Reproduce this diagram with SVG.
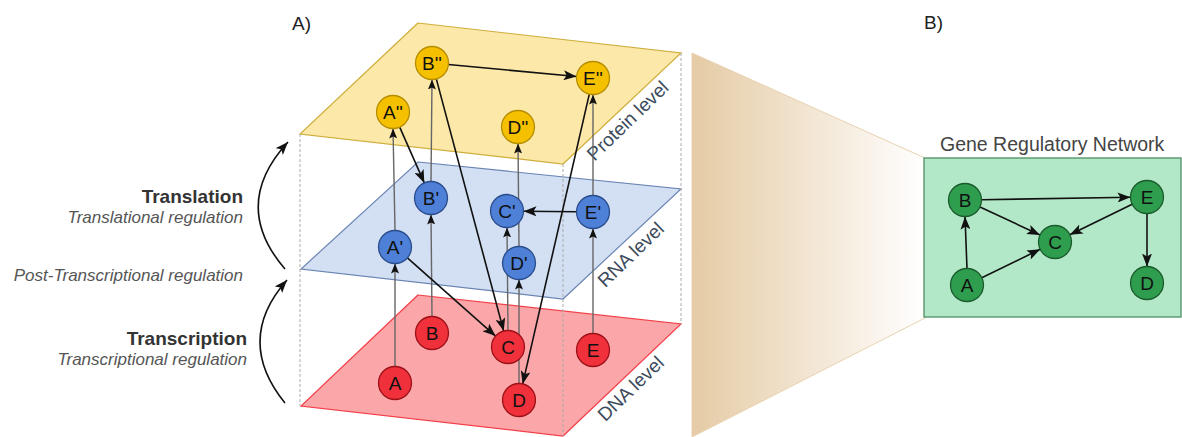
<svg xmlns="http://www.w3.org/2000/svg" width="1182" height="437" viewBox="0 0 1182 437">
<defs>
<style>
text{font-family:"Liberation Sans",Arial,sans-serif}
.nl{font-size:19px;fill:#111;text-anchor:middle}
.ny{fill:#f5c000;stroke:#b58d00;stroke-width:1.3}
.nb{fill:#4d80d6;stroke:#2a4c8c;stroke-width:1.3}
.nr{fill:#f0303a;stroke:#9c1018;stroke-width:1.3}
.ng{fill:#2e9e4e;stroke:#1b5a2c;stroke-width:1.3}
.v{stroke:#666;stroke-width:1.4;fill:none;marker-end:url(#ah)}
.d{stroke:#111;stroke-width:1.6;fill:none;marker-end:url(#ab)}
.box{stroke:#aaa;stroke-width:1;stroke-dasharray:3 2;fill:none}
.pl{font-size:19px;fill:#3d4b5c;text-anchor:middle}
.bold{font-size:19px;font-weight:bold;fill:#333;text-anchor:end}
.it{font-size:17px;font-style:italic;fill:#555;text-anchor:end}
</style>
<marker id="ab" markerWidth="14" markerHeight="10" refX="13" refY="5" orient="auto" markerUnits="userSpaceOnUse">
<path d="M0,0 L13,5 L0,10 L3,5 Z" fill="#111"/>
</marker>
<marker id="ah" markerWidth="11" markerHeight="8" refX="10" refY="4" orient="auto" markerUnits="userSpaceOnUse">
<path d="M0,0 L10,4 L0,8 L2,4 Z" fill="#111"/>
</marker>
<linearGradient id="tan" x1="0" y1="0" x2="1" y2="0">
<stop offset="0" stop-color="#e5cba5"/>
<stop offset="1" stop-color="#ffffff"/>
</linearGradient>
</defs>
<rect width="1182" height="437" fill="#ffffff"/>

<g id="planes">
<polygon points="418,295 681,324 563,436 301,406" fill="#fba6a8" stroke="#f2404a" stroke-width="1.2"/>
<polygon points="418,162 681,189 563,299 301,269" fill="#d3dff2" stroke="#6a84b4" stroke-width="1.2"/>
<polygon points="418,23 681,53 563,164 300,134" fill="#fce8a8" stroke="#cfae3c" stroke-width="1.2"/>
</g>
<g id="box-edges">
<line class="box" x1="300" y1="134" x2="300" y2="406"/>
<line class="box" x1="563" y1="164" x2="563" y2="436"/>
<line class="box" x1="681" y1="53" x2="681" y2="324"/>
</g>
<g id="plane-labels">
<text class="pl" transform="translate(628,121) rotate(-44)" x="0" y="6">Protein level</text>
<text class="pl" transform="translate(631,255) rotate(-44)" x="0" y="6">RNA level</text>
<text class="pl" transform="translate(631,389) rotate(-44)" x="0" y="6">DNA level</text>
</g>

<g id="zoom-funnel">
<polygon points="692,53 925,158 925,318 692,437" fill="url(#tan)" stroke="#e8d2b0" stroke-width="1"/>
</g>
<g id="grn-box">
<rect x="924" y="158" width="257" height="159" fill="#b2e8c8" stroke="#4f8f64" stroke-width="1.3"/>
<text x="940" y="151" font-size="19.5" fill="#444">Gene Regulatory Network</text>
</g>

<g id="connectors">
<line class="v" x1="395" y1="366.5" x2="395" y2="263.5"/>
<line class="v" x1="395" y1="230.5" x2="393" y2="128.5"/>
<line class="v" x1="432" y1="316.5" x2="431" y2="214.5"/>
<line class="v" x1="431" y1="181.5" x2="432" y2="79.5"/>
<line class="v" x1="508" y1="330.5" x2="507" y2="227.5"/>
<line class="v" x1="519" y1="383.5" x2="519" y2="279.5"/>
<line class="v" x1="519" y1="246.5" x2="518" y2="143.5"/>
<line class="v" x1="593" y1="333.5" x2="593" y2="228.5"/>
<line class="v" x1="593" y1="195.5" x2="593" y2="94.5"/>
<line class="d" x1="399.7" y1="127.1" x2="424.3" y2="182.9"/>
<line class="d" x1="448.4" y1="64.5" x2="576.6" y2="76.5"/>
<line class="d" x1="436.3" y1="78.9" x2="503.7" y2="331.1"/>
<line class="d" x1="407.4" y1="257.9" x2="495.6" y2="336.1"/>
<line class="d" x1="589.3" y1="94.1" x2="522.7" y2="383.9"/>
<line class="d" x1="576.5" y1="211.8" x2="523.5" y2="211.2"/>
<path class="d" d="M285,403 Q234,340 287,280" stroke="#444" stroke-width="1.3"/>
<path class="d" d="M285,269 Q230,205 288,142" stroke="#444" stroke-width="1.3"/>
<line class="d" x1="981.5" y1="199.7" x2="1130.5" y2="197.3"/>
<line class="d" x1="980" y1="207" x2="1040" y2="235"/>
<line class="d" x1="1132.2" y1="204.2" x2="1069.8" y2="234.8"/>
<line class="d" x1="967" y1="268.5" x2="965" y2="216.5"/>
<line class="d" x1="981.8" y1="277.7" x2="1040.2" y2="249.3"/>
<line class="d" x1="1147" y1="213.5" x2="1147" y2="266.5"/>
</g>

<g id="node-A2"><circle class="ny" cx="393" cy="112" r="16.5"/><text class="nl" x="393" y="119">A''</text></g>
<g id="node-B2"><circle class="ny" cx="432" cy="63" r="16.5"/><text class="nl" x="432" y="70">B''</text></g>
<g id="node-D2"><circle class="ny" cx="518" cy="127" r="16.5"/><text class="nl" x="518" y="134">D''</text></g>
<g id="node-E2"><circle class="ny" cx="593" cy="78" r="16.5"/><text class="nl" x="593" y="85">E''</text></g>

<g id="node-A1"><circle class="nb" cx="395" cy="247" r="16.5"/><text class="nl" x="395" y="254">A'</text></g>
<g id="node-B1"><circle class="nb" cx="431" cy="198" r="16.5"/><text class="nl" x="431" y="205">B'</text></g>
<g id="node-C1"><circle class="nb" cx="507" cy="211" r="16.5"/><text class="nl" x="507" y="218">C'</text></g>
<g id="node-D1"><circle class="nb" cx="519" cy="263" r="16.5"/><text class="nl" x="519" y="270">D'</text></g>
<g id="node-E1"><circle class="nb" cx="593" cy="212" r="16.5"/><text class="nl" x="593" y="219">E'</text></g>

<g id="node-A"><circle class="nr" cx="395" cy="383" r="16.5"/><text class="nl" x="395" y="390">A</text></g>
<g id="node-B"><circle class="nr" cx="432" cy="333" r="16.5"/><text class="nl" x="432" y="340">B</text></g>
<g id="node-C"><circle class="nr" cx="508" cy="347" r="16.5"/><text class="nl" x="508" y="354">C</text></g>
<g id="node-D"><circle class="nr" cx="519" cy="400" r="16.5"/><text class="nl" x="519" y="407">D</text></g>
<g id="node-E"><circle class="nr" cx="593" cy="350" r="16.5"/><text class="nl" x="593" y="357">E</text></g>

<g id="grn-B"><circle class="ng" cx="965" cy="200" r="16.5"/><text class="nl" x="965" y="207">B</text></g>
<g id="grn-E"><circle class="ng" cx="1147" cy="197" r="16.5"/><text class="nl" x="1147" y="204">E</text></g>
<g id="grn-C"><circle class="ng" cx="1055" cy="242" r="16.5"/><text class="nl" x="1055" y="249">C</text></g>
<g id="grn-A"><circle class="ng" cx="967" cy="285" r="16.5"/><text class="nl" x="967" y="292">A</text></g>
<g id="grn-D"><circle class="ng" cx="1147" cy="283" r="16.5"/><text class="nl" x="1147" y="290">D</text></g>

<g id="left-labels">
<text class="bold" x="243" y="203">Translation</text>
<text class="it" x="243" y="223">Translational regulation</text>
<text class="it" x="243" y="281">Post-Transcriptional regulation</text>
<text class="bold" x="247" y="345">Transcription</text>
<text class="it" x="247" y="365">Transcriptional regulation</text>
</g>
<g id="titles">
<text x="292" y="30" font-size="19" fill="#222">A)</text>
<text x="924" y="29" font-size="19" fill="#222">B)</text>
</g>
</svg>
